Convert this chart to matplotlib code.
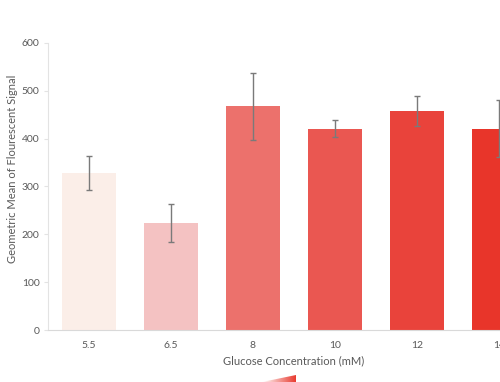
import numpy as np
import matplotlib
matplotlib.use('Agg')
import matplotlib.pyplot as plt
from matplotlib.patches import Polygon

plt.rcParams['font.family'] = ['Lato', 'DejaVu Sans']

# data
concentrations = ['5.5', '6.5', '8', '10', '12', '14']
geo_means = [328, 224, 468, 421, 458, 421]
errors = [36, 40, 70, 17, 32, 59]
bar_colors = ['#FBEEE8', '#F4C2C2', '#EC716C', '#EA5751', '#E9433B', '#E8352A']

W, H = 500, 382
fig = plt.figure(figsize=(W / 100, H / 100), dpi=100)

# axes run past the right edge of the figure, like the cropped original
ax_left, ax_right, ax_bottom, ax_top = 48, 500, 330, 43
ax_w, ax_h = ax_right - ax_left, ax_bottom - ax_top
ax = fig.add_axes([ax_left / W, (H - ax_bottom) / H, ax_w / W, ax_h / H])

x = np.arange(len(concentrations))
ax.bar(x, geo_means, width=0.67, color=bar_colors, zorder=2)
ax.errorbar(x, geo_means, yerr=errors, fmt='none', ecolor='#7A7A7A',
            elinewidth=1, capsize=2, capthick=1, zorder=3, clip_on=False)

ax.set_ylim(0, 600)
ax.set_xlim(-0.5, ax_w / 82 - 0.5)
ax.set_yticks(range(0, 601, 100))
ax.set_xticks(x)
ax.set_xticklabels(concentrations)

for side in ['top', 'right']:
    ax.spines[side].set_visible(False)
ax.spines['left'].set_color('#E3E3E3')
ax.spines['bottom'].set_color('#D9D9D9')
ax.tick_params(axis='y', length=3, color='#E3E3E3', labelsize=7.5, labelcolor='#595959', pad=3)
ax.tick_params(axis='x', length=0, labelsize=7.5, labelcolor='#595959', pad=8)

ax.set_xlabel('Glucose Concentration (mM)', fontsize=8, color='#595959')
ax.xaxis.set_label_coords((294 - ax_left) / ax_w, (ax_bottom - 355) / ax_h)
ax.set_ylabel('Geometric Mean of Flourescent Signal', fontsize=8, color='#595959')
ax.yaxis.set_label_coords((18 - ax_left) / ax_w, (ax_bottom - 169) / ax_h)

# gradient wedge under the x label
grad = np.linspace(0, 1, 256).reshape(1, -1)
cmap = matplotlib.colors.LinearSegmentedColormap.from_list('wedge', ['#FFFFFF', '#E8352A'])
wedge_ax = fig.add_axes([262 / W, 0, 34 / W, 7 / H])
wedge_ax.axis('off')
img = wedge_ax.imshow(grad, cmap=cmap, aspect='auto', extent=[0, 1, 0, 1])
img.set_clip_path(Polygon([(0, 0), (1, 1), (1, 0)], transform=wedge_ax.transAxes))
wedge_ax.set_xlim(0, 1)
wedge_ax.set_ylim(0, 1)

fig.savefig('out.png', dpi=100)
